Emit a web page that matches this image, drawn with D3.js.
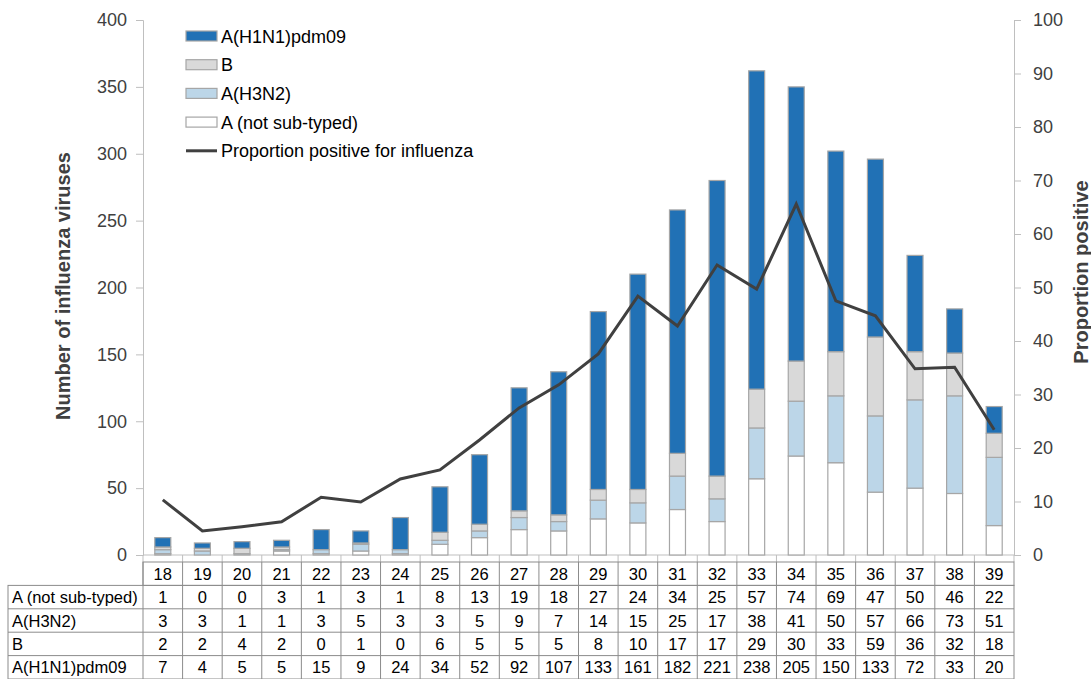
<!DOCTYPE html>
<html>
<head>
<meta charset="utf-8">
<script src="https://cdn.jsdelivr.net/npm/d3@7"></script>
<style>
  body { margin: 0; background: #fff; }
  text { font-family: "Liberation Sans", Arial, sans-serif; }
</style>
</head>
<body>
<script>
const weeks = [18, 19, 20, 21, 22, 23, 24, 25, 26, 27, 28, 29, 30, 31, 32, 33, 34, 35, 36, 37, 38, 39];
const notSubtyped = [1, 0, 0, 3, 1, 3, 1, 8, 13, 19, 18, 27, 24, 34, 25, 57, 74, 69, 47, 50, 46, 22];
const h3n2 = [3, 3, 1, 1, 3, 5, 3, 3, 5, 9, 7, 14, 15, 25, 17, 38, 41, 50, 57, 66, 73, 51];
const fluB = [2, 2, 4, 2, 0, 1, 0, 6, 5, 5, 5, 8, 10, 17, 17, 29, 30, 33, 59, 36, 32, 18];
const h1n1 = [7, 4, 5, 5, 15, 9, 24, 34, 52, 92, 107, 133, 161, 182, 221, 238, 205, 150, 133, 72, 33, 20];
const proportion = [10.3, 4.5, 5.3, 6.2, 10.8, 9.9, 14.2, 15.9, 21.5, 27.5, 31.8, 37.6, 48.4, 42.8, 54.2, 49.7, 65.6, 47.5, 44.7, 34.8, 35.1, 23.4];
const leftTicks = [0, 50, 100, 150, 200, 250, 300, 350, 400];
const rightTicks = [0, 10, 20, 30, 40, 50, 60, 70, 80, 90, 100];

// stacking order bottom -> top
const series = [
  { name: "A (not sub-typed)", values: notSubtyped, color: "#ffffff" },
  { name: "A(H3N2)", values: h3n2, color: "#bcd6e8" },
  { name: "B", values: fluB, color: "#d9d9d9" },
  { name: "A(H1N1)pdm09", values: h1n1, color: "#2171b5" }
];

const W = 1091, H = 679;
const plot = { left: 143, right: 1014, top: 20, bottom: 555 };

const svg = d3.select("body").append("svg")
  .attr("width", W).attr("height", H);

const x = d3.scaleBand().domain(weeks).range([plot.left, plot.right]).paddingInner(0).paddingOuter(0);
const yL = d3.scaleLinear().domain([0, 400]).range([plot.bottom, plot.top]);
const yR = d3.scaleLinear().domain([0, 100]).range([plot.bottom, plot.top]);

const gridCol = "#bfbfbf", textCol = "#404040";

// left axis
const axL = svg.append("g").attr("transform", `translate(${plot.left},0)`)
  .call(d3.axisLeft(yL).tickValues(leftTicks).tickSize(7).tickPadding(9));
axL.selectAll("path, line").attr("stroke", gridCol);
axL.selectAll("text").attr("font-size", 18).attr("fill", textCol)
  .style("font-family", "Liberation Sans, Arial, sans-serif");

// right axis
const axR = svg.append("g").attr("transform", `translate(${plot.right},0)`)
  .call(d3.axisRight(yR).tickValues(rightTicks).tickSize(7).tickPadding(12));
axR.selectAll("path, line").attr("stroke", gridCol);
axR.selectAll("text").attr("font-size", 18).attr("fill", textCol)
  .style("font-family", "Liberation Sans, Arial, sans-serif");

// x axis baseline with ticks at category edges
svg.append("line")
  .attr("x1", plot.left).attr("x2", plot.right)
  .attr("y1", plot.bottom).attr("y2", plot.bottom)
  .attr("stroke", gridCol);
svg.selectAll("line.xtick").data(weeks.concat([null])).enter().append("line")
  .attr("class", "xtick")
  .attr("x1", (d, i) => plot.left + i * x.bandwidth())
  .attr("x2", (d, i) => plot.left + i * x.bandwidth())
  .attr("y1", plot.bottom).attr("y2", plot.bottom + 7)
  .attr("stroke", gridCol);

// stacked bars
const barW = 16;
const stackData = weeks.map((w, i) => {
  const o = { week: w };
  series.forEach(s => { o[s.name] = s.values[i]; });
  return o;
});
const stack = d3.stack().keys(series.map(s => s.name))(stackData);
stack.forEach((layer, li) => {
  svg.append("g").selectAll("rect").data(layer).enter().append("rect")
    .attr("x", d => x(d.data.week) + (x.bandwidth() - barW) / 2)
    .attr("y", d => yL(d[1]))
    .attr("width", barW)
    .attr("height", d => yL(d[0]) - yL(d[1]))
    .attr("fill", series[li].color)
    .attr("stroke", "#a6a6a6")
    .attr("stroke-width", 1.2);
});

// proportion line
const line = d3.line()
  .x((d, i) => x(weeks[i]) + x.bandwidth() / 2)
  .y(d => yR(d));
svg.append("path").datum(proportion)
  .attr("d", line)
  .attr("fill", "none")
  .attr("stroke", "#404040")
  .attr("stroke-width", 3)
  .attr("stroke-linejoin", "miter");

// axis titles
svg.append("text")
  .attr("transform", "translate(70,286) rotate(-90)")
  .attr("text-anchor", "middle")
  .attr("font-size", 20).attr("font-weight", "bold").attr("fill", textCol)
  .text("Number of influenza viruses");
svg.append("text")
  .attr("transform", "translate(1088,272) rotate(-90)")
  .attr("text-anchor", "middle")
  .attr("font-size", 20).attr("font-weight", "bold").attr("fill", textCol)
  .text("Proportion positive");

// legend
const legendItems = [
  { name: "A(H1N1)pdm09", color: "#2171b5", type: "box" },
  { name: "B", color: "#d9d9d9", type: "box" },
  { name: "A(H3N2)", color: "#bcd6e8", type: "box" },
  { name: "A (not sub-typed)", color: "#ffffff", type: "box" },
  { name: "Proportion positive for influenza", color: "#404040", type: "line" }
];
const lg = svg.append("g").attr("transform", "translate(186,36)");
legendItems.forEach((d, i) => {
  const g = lg.append("g").attr("transform", `translate(0,${i * 28.7})`);
  if (d.type === "box") {
    g.append("rect").attr("x", 0).attr("y", -5).attr("width", 31).attr("height", 10)
      .attr("fill", d.color).attr("stroke", "#a6a6a6").attr("stroke-width", 1.2);
  } else {
    g.append("line").attr("x1", 0).attr("x2", 31).attr("y1", 0).attr("y2", 0)
      .attr("stroke", d.color).attr("stroke-width", 3);
  }
  g.append("text").attr("x", 35).attr("y", 6.5)
    .attr("font-size", 18).attr("fill", "#000").text(d.name);
});

// data table
const tableTop = 562, rowH = 23.4, labelLeft = 8;
const rows = [
  { name: "A (not sub-typed)", values: notSubtyped },
  { name: "A(H3N2)", values: h3n2 },
  { name: "B", values: fluB },
  { name: "A(H1N1)pdm09", values: h1n1 }
];
const tg = svg.append("g");
const tableLine = "#8c8c8c";
const fs = 16.5;
// header row: week numbers
tg.append("rect").attr("x", plot.left).attr("y", tableTop)
  .attr("width", plot.right - plot.left).attr("height", rowH)
  .attr("fill", "none").attr("stroke", tableLine);
// label column + body
tg.append("rect").attr("x", labelLeft).attr("y", tableTop + rowH)
  .attr("width", plot.right - labelLeft).attr("height", rowH * rows.length)
  .attr("fill", "none").attr("stroke", tableLine);
rows.forEach((r, i) => {
  if (i > 0) {
    tg.append("line").attr("x1", labelLeft).attr("x2", plot.right)
      .attr("y1", tableTop + rowH * (i + 1)).attr("y2", tableTop + rowH * (i + 1))
      .attr("stroke", tableLine);
  }
});
tg.append("line").attr("x1", plot.left).attr("x2", plot.left)
  .attr("y1", tableTop).attr("y2", tableTop + rowH * (rows.length + 1)).attr("stroke", tableLine);
weeks.forEach((w, i) => {
  if (i > 0) {
    tg.append("line").attr("x1", x(w)).attr("x2", x(w))
      .attr("y1", tableTop).attr("y2", tableTop + rowH * (rows.length + 1))
      .attr("stroke", tableLine);
  }
});
tg.selectAll("text.wk").data(weeks).enter().append("text")
  .attr("x", d => x(d) + x.bandwidth() / 2)
  .attr("y", tableTop + rowH / 2 + 6)
  .attr("text-anchor", "middle").attr("font-size", fs).attr("fill", "#000")
  .text(d => d);
rows.forEach((r, ri) => {
  const cy = tableTop + rowH * (ri + 1) + rowH / 2 + 6;
  tg.append("text").attr("x", labelLeft + 4).attr("y", cy)
    .attr("font-size", fs).attr("fill", "#000").text(r.name);
  tg.selectAll(null).data(r.values).enter().append("text")
    .attr("x", (d, i) => x(weeks[i]) + x.bandwidth() / 2)
    .attr("y", cy)
    .attr("text-anchor", "middle").attr("font-size", fs).attr("fill", "#000")
    .text(d => d);
});
</script>
</body>
</html>
